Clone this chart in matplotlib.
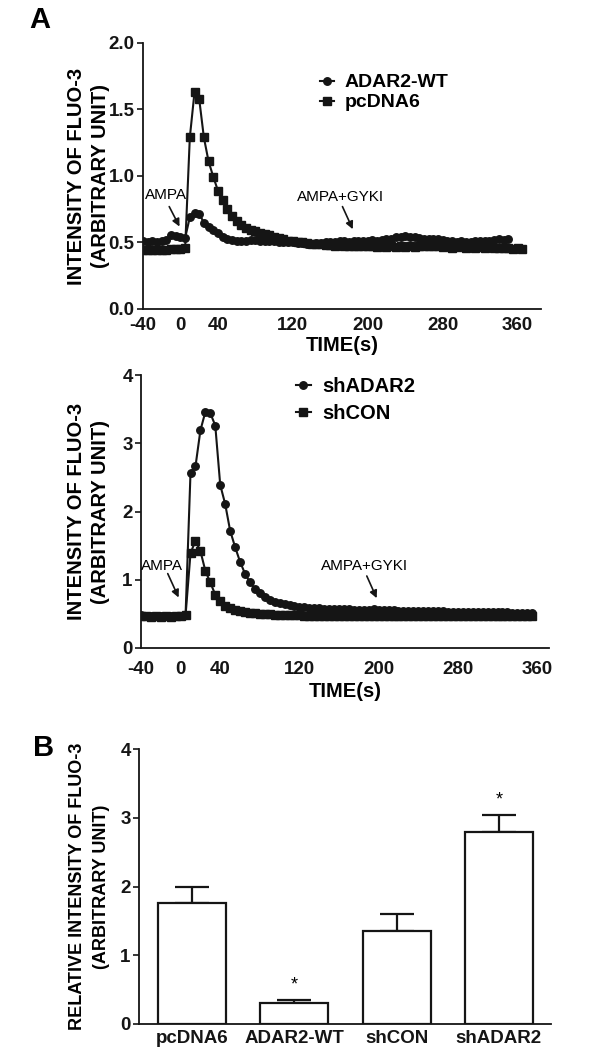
import matplotlib
matplotlib.use("Agg")
import matplotlib.pyplot as plt

plt.rcParams['font.family'] = ['Liberation Sans', 'DejaVu Sans']
plt.rcParams['axes.unicode_minus'] = False

# ---------------- data ----------------
time_s = [-40, -35, -30, -25, -20, -15, -10, -5, 0, 5,
          10, 15, 20, 25, 30, 35, 40, 45, 50, 55,
          60, 65, 70, 75, 80, 85, 90, 95, 100, 105,
          110, 115, 120, 125, 130, 135, 140, 145, 150, 155,
          160, 165, 170, 175, 180, 185, 190, 195, 200, 205,
          210, 215, 220, 225, 230, 235, 240, 245, 250, 255,
          260, 265, 270, 275, 280, 285, 290, 295, 300, 305,
          310, 315, 320, 325, 330, 335, 340, 345, 350, 355,
          360, 365]

pcdna6 = [0.44, 0.44, 0.44, 0.445, 0.44, 0.445, 0.45, 0.45, 0.45, 0.46,
          1.29, 1.63, 1.58, 1.29, 1.11, 0.995, 0.89, 0.82, 0.75, 0.70,
          0.66, 0.635, 0.61, 0.595, 0.585, 0.575, 0.565, 0.555, 0.545, 0.535,
          0.525, 0.515, 0.51, 0.505, 0.50, 0.495, 0.49, 0.49, 0.485, 0.48,
          0.48, 0.475, 0.48, 0.475, 0.47, 0.475, 0.47, 0.475, 0.47, 0.47,
          0.465, 0.47, 0.465, 0.47, 0.465, 0.47, 0.465, 0.47, 0.465, 0.47,
          0.475, 0.47, 0.475, 0.47, 0.465, 0.47, 0.46, 0.465, 0.47, 0.46,
          0.465, 0.46, 0.465, 0.46, 0.465, 0.46, 0.455, 0.46, 0.455, 0.45,
          0.455, 0.45]

adar2_wt = [0.51, 0.505, 0.51, 0.50, 0.51, 0.52, 0.555, 0.55, 0.54, 0.535,
            0.69, 0.72, 0.715, 0.65, 0.62, 0.595, 0.57, 0.545, 0.53, 0.52,
            0.515, 0.515, 0.515, 0.52, 0.52, 0.515, 0.515, 0.51, 0.51, 0.505,
            0.505, 0.50, 0.50, 0.495, 0.495, 0.49, 0.49, 0.495, 0.495, 0.50,
            0.505, 0.505, 0.51, 0.51, 0.505, 0.51, 0.515, 0.51, 0.515, 0.52,
            0.515, 0.52, 0.525, 0.53, 0.54, 0.545, 0.55, 0.545, 0.54, 0.535,
            0.53, 0.53, 0.525, 0.525, 0.52, 0.515, 0.51, 0.505, 0.51, 0.50,
            0.505, 0.51, 0.515, 0.51, 0.515, 0.52, 0.525, 0.52, 0.525]

shadar2 = [0.48, 0.47, 0.47, 0.465, 0.47, 0.465, 0.47, 0.47, 0.475, 0.48,
           2.57, 2.66, 3.19, 3.46, 3.44, 3.26, 2.39, 2.11, 1.72, 1.48,
           1.265, 1.09, 0.96, 0.87, 0.80, 0.745, 0.705, 0.675, 0.655, 0.64,
           0.625, 0.615, 0.605, 0.595, 0.59, 0.585, 0.58, 0.578, 0.575, 0.572,
           0.57, 0.568, 0.565, 0.563, 0.56, 0.558, 0.556, 0.565, 0.555, 0.552,
           0.55, 0.55, 0.548, 0.546, 0.545, 0.544, 0.542, 0.54, 0.54, 0.538,
           0.537, 0.535, 0.534, 0.533, 0.532, 0.53, 0.529, 0.528, 0.527, 0.526,
           0.525, 0.524, 0.523, 0.522, 0.521, 0.52, 0.519, 0.518, 0.517, 0.516]

shcon = [0.47, 0.465, 0.46, 0.465, 0.46, 0.465, 0.46, 0.465, 0.47, 0.48,
         1.39, 1.57, 1.42, 1.13, 0.96, 0.78, 0.69, 0.62, 0.585, 0.56,
         0.54, 0.525, 0.515, 0.51, 0.505, 0.50, 0.495, 0.49, 0.49, 0.485,
         0.485, 0.48, 0.48, 0.475, 0.475, 0.475, 0.47, 0.47, 0.475, 0.47,
         0.47, 0.475, 0.47, 0.465, 0.47, 0.475, 0.47, 0.47, 0.465, 0.47,
         0.475, 0.47, 0.465, 0.47, 0.47, 0.475, 0.47, 0.465, 0.47, 0.47,
         0.475, 0.47, 0.465, 0.47, 0.47, 0.475, 0.47, 0.465, 0.47, 0.47,
         0.465, 0.47, 0.475, 0.47, 0.465, 0.47, 0.47, 0.475, 0.47, 0.47]

x_ticks = [-40, 0, 40, 120, 200, 280, 360]

bar_groups = ['pcDNA6', 'ADAR2-WT', 'shCON', 'shADAR2']
bar_means = [1.76, 0.31, 1.35, 2.79]
bar_sem = [0.23, 0.04, 0.25, 0.25]
bar_signif = ['', '*', '', '*']

# ---------------- figure ----------------
W, H = 600, 1061
fig = plt.figure(figsize=(W / 100, H / 100), dpi=100)


def ax_px(left, right, top, bottom):
    return fig.add_axes([left / W, 1 - bottom / H, (right - left) / W, (bottom - top) / H])


INK = '#151515'
LW = 1.5
MS = 5.4
TICKFS = 13.5
LABELFS = 14.5


def style_axes(ax, xpad=6):
    for s in ['top', 'right']:
        ax.spines[s].set_visible(False)
    for s in ['left', 'bottom']:
        ax.spines[s].set_linewidth(1.3)
        ax.spines[s].set_color(INK)
    ax.tick_params(axis='y', direction='out', length=4, width=1.2, pad=2,
                   labelsize=TICKFS, colors=INK)
    ax.tick_params(axis='x', length=0, pad=xpad, labelsize=TICKFS, colors=INK)
    for lbl in ax.get_xticklabels() + ax.get_yticklabels():
        lbl.set_fontweight('bold')


def place_ylabel(ax, text, size, spacing, right_px, left_px, width_px):
    ax.set_ylabel(text, fontsize=size, fontweight='bold', linespacing=spacing)
    ax.yaxis.set_label_coords((right_px - left_px) / width_px, 0.5)


arrow_kw = dict(arrowstyle='-|>', color=INK, lw=1.2, mutation_scale=11,
                shrinkA=0, shrinkB=0)

# Panel A top
ax1 = ax_px(143, 541, 43, 309)
ax1.plot(time_s[:len(adar2_wt)], adar2_wt, '-o', color=INK, lw=LW,
         ms=MS, label='ADAR2-WT')
ax1.plot(time_s[:len(pcdna6)], pcdna6, '-s', color=INK, lw=LW,
         ms=MS, label='pcDNA6')
ax1.set_xlim(-40, 385)
ax1.set_ylim(0, 2.0)
ax1.set_xticks(x_ticks)
ax1.set_yticks([0.0, 0.5, 1.0, 1.5, 2.0])
ax1.set_yticklabels(['0.0', '0.5', '1.0', '1.5', '2.0'])
style_axes(ax1)
ax1.set_xlabel('TIME(s)', fontsize=LABELFS, fontweight='bold', labelpad=1)
place_ylabel(ax1, 'INTENSITY OF FLUO-3\n(ARBITRARY UNIT)', LABELFS, 1.35, 110, 143, 398)
ax1.legend(loc='upper left', bbox_to_anchor=(0.40, 0.95), frameon=False,
           handlelength=0.75, handletextpad=0.55, labelspacing=0.12,
           prop={'weight': 'bold', 'size': 14})
ax1.text(-16, 0.857, 'AMPA', fontsize=11, ha='center', va='center')
ax1.annotate('', xy=(-1, 0.62), xytext=(-12, 0.77), arrowprops=arrow_kw)
ax1.text(171, 0.842, 'AMPA+GYKI', fontsize=11, ha='center', va='center')
ax1.annotate('', xy=(184, 0.60), xytext=(173, 0.77), arrowprops=arrow_kw)

# Panel A bottom
ax2 = ax_px(141, 549, 375, 648)
ax2.plot(time_s[:len(shadar2)], shadar2, '-o', color=INK, lw=LW,
         ms=MS, label='shADAR2')
ax2.plot(time_s[:len(shcon)], shcon, '-s', color=INK, lw=LW,
         ms=MS, label='shCON')
ax2.set_xlim(-40, 372)
ax2.set_ylim(0, 4)
ax2.set_xticks(x_ticks)
ax2.set_yticks([0, 1, 2, 3, 4])
style_axes(ax2, xpad=9)
ax2.set_xlabel('TIME(s)', fontsize=LABELFS, fontweight='bold', labelpad=3)
place_ylabel(ax2, 'INTENSITY OF FLUO-3\n(ARBITRARY UNIT)', LABELFS, 1.35, 110, 141, 408)
ax2.legend(loc='upper left', bbox_to_anchor=(0.335, 1.06), frameon=False,
           handlelength=0.75, handletextpad=0.55, labelspacing=0.4,
           prop={'weight': 'bold', 'size': 14.5})
ax2.text(-19, 1.20, 'AMPA', fontsize=11, ha='center', va='center')
ax2.annotate('', xy=(-2, 0.74), xytext=(-13, 1.09), arrowprops=arrow_kw)
ax2.text(186, 1.20, 'AMPA+GYKI', fontsize=11, ha='center', va='center')
ax2.annotate('', xy=(198, 0.73), xytext=(188, 1.055), arrowprops=arrow_kw)

# Panel B
ax3 = ax_px(139, 551, 749, 1024)
xpos = list(range(len(bar_groups)))
ax3.errorbar(xpos, bar_means, yerr=[[0] * len(bar_sem), bar_sem], fmt='none',
             ecolor=INK, elinewidth=1.6, capsize=12, capthick=1.6, zorder=1)
ax3.bar(xpos, bar_means, width=0.665, color='white', edgecolor=INK,
        linewidth=1.6, zorder=2)
for xi, m, e, s in zip(xpos, bar_means, bar_sem, bar_signif):
    if s:
        ax3.text(xi, m + e + 0.22, s, ha='center', va='center', fontsize=13)
ax3.set_xlim(-0.52, 3.51)
ax3.set_ylim(0, 4)
ax3.set_yticks([0, 1, 2, 3, 4])
ax3.set_xticks(xpos)
ax3.set_xticklabels(bar_groups)
style_axes(ax3)
ax3.tick_params(axis='x', labelsize=13.5, pad=4)
for lbl in ax3.get_xticklabels():
    lbl.set_fontweight('bold')
place_ylabel(ax3, 'RELATIVE INTENSITY OF FLUO-3\n(ARBITRARY UNIT)', 13, 1.5, 110, 139, 412)

fig.text(40 / W, 1 - 20 / H, 'A', fontsize=21, fontweight='bold', ha='center', va='center')
fig.text(44 / W, 1 - 748 / H, 'B', fontsize=21, fontweight='bold', ha='center', va='center')

fig.savefig('out.png', dpi=100)
